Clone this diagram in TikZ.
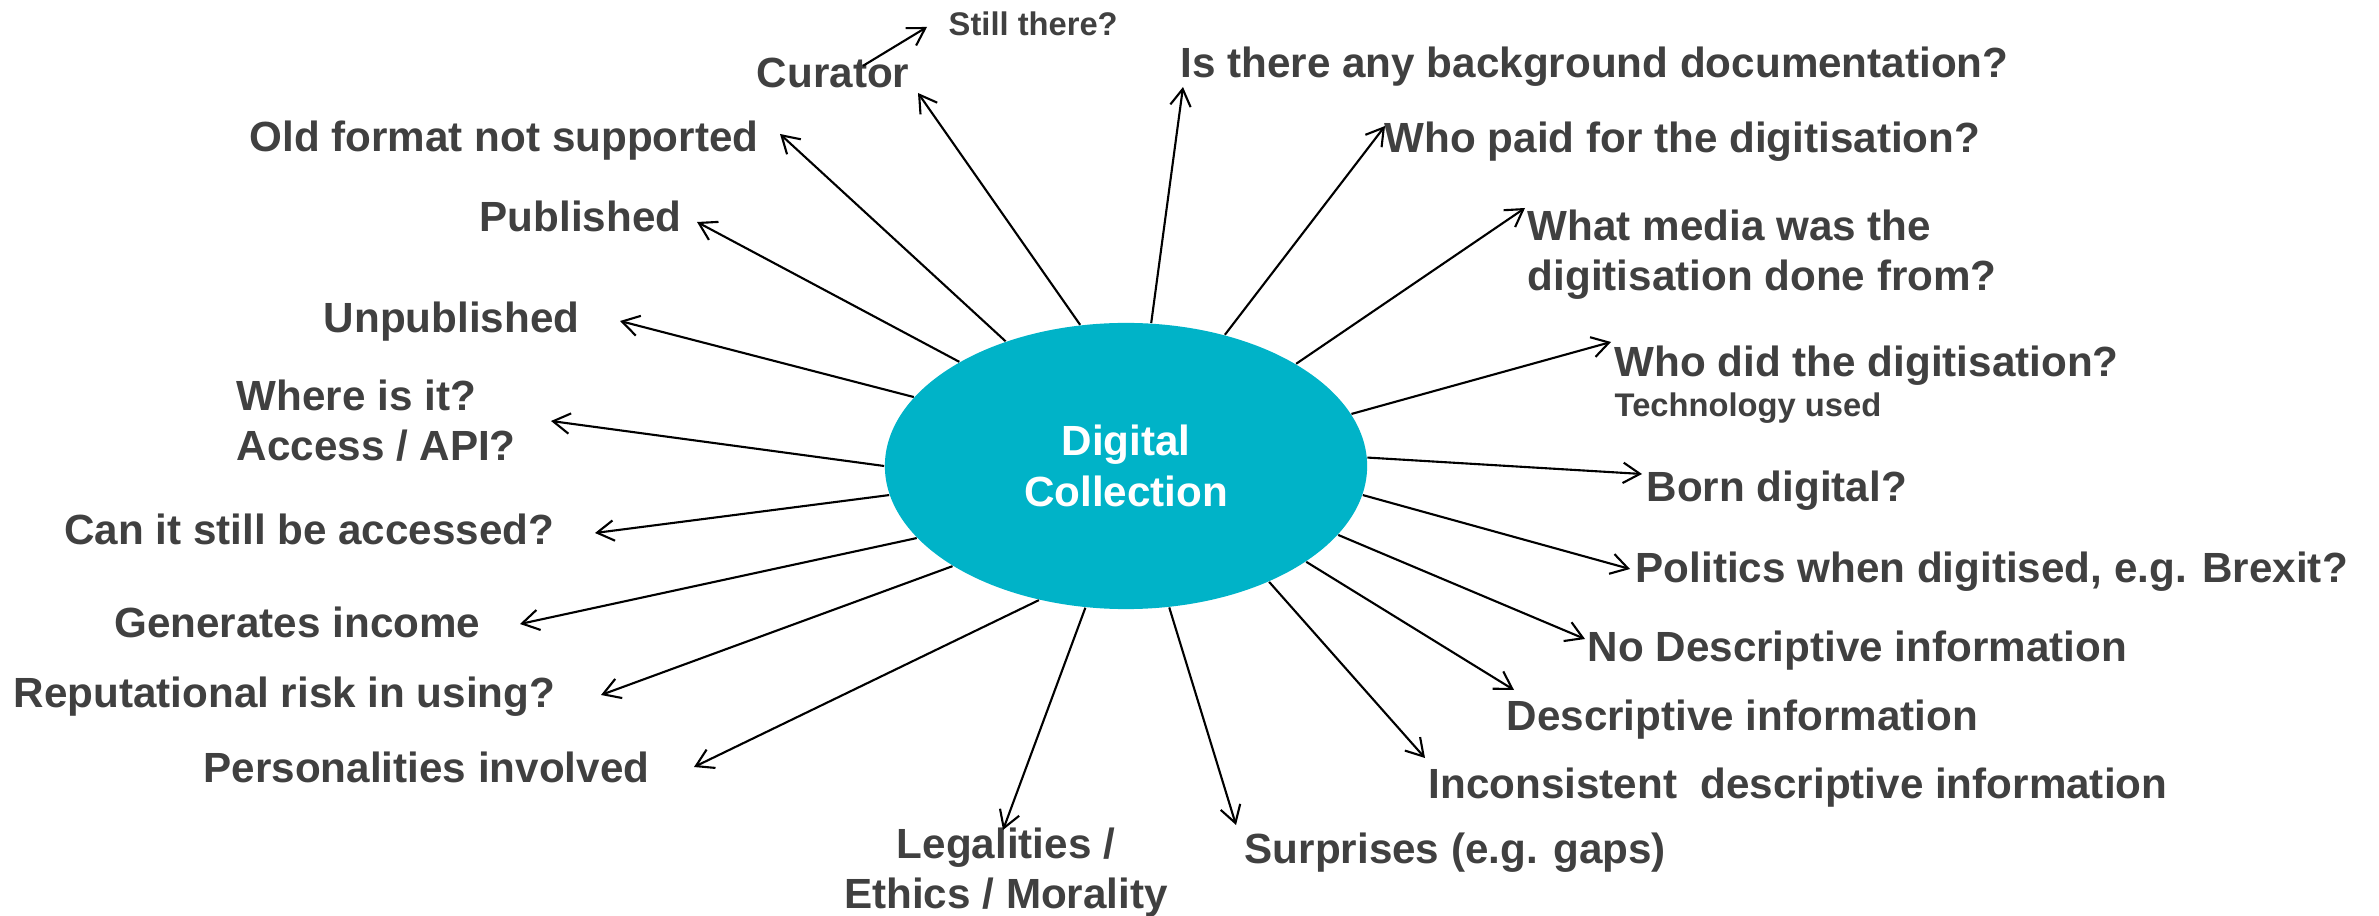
\documentclass[tikz,border=0pt]{standalone}
\usepackage{fontspec}
\setmainfont{Liberation Sans}
\usetikzlibrary{arrows.meta,shapes.geometric}
\definecolor{dcteal}{RGB}{0,179,200}
\definecolor{lblgray}{RGB}{64,64,64}
\tikzset{
	lbl/.style={inner sep=0pt, text=lblgray, font=\fontsize{12}{14.2}\selectfont\bfseries},
	sublbl/.style={inner sep=0pt, text=lblgray, font=\fontsize{9.3}{11}\selectfont\bfseries},
	arr/.style={-{Straight Barb[length=4.8pt,width=5.8pt]}, line width=0.6pt, black}
}

\begin{document}
\begin{tikzpicture}[x=0.01cm, y=-0.01cm]
		\useasboundingbox (0,0) rectangle (2379,916);
		\node[ellipse, fill=dcteal, minimum width=4.82cm, minimum height=2.86cm, inner sep=0pt, text=white, align=center, font=\fontsize{12}{14.4}\selectfont\bfseries] (dc) at (1126,466) {Digital\\Collection};
		\node[lbl, anchor=base east] (curator) at (910,88) {Curator};
		\node[sublbl, anchor=base west] (still) at (948,36) {Still there?};
		\node[lbl, anchor=base west] (isthere) at (1180,78) {Is there any background documentation?};
		\node[lbl, anchor=base east] (old) at (759,152) {Old format not supported};
		\node[lbl, anchor=base west] (paid) at (1384,153) {Who paid for the digitisation?};
		\node[lbl, anchor=base east] (pub) at (682,232) {Published};
		\node[lbl, anchor=north west, align=left] (media) at (1527,209) {What media was the\\digitisation done from?};
		\node[lbl, anchor=base east] (unpub) at (580,333) {Unpublished};
		\node[lbl, anchor=base west] (whodid) at (1614,377) {Who did the digitisation?};
		\node[sublbl, anchor=base west] (tech) at (1614,417) {Technology used};
		\node[lbl, anchor=north west, align=left] (where) at (236,379) {Where is it?\\Access / API?};
		\node[lbl, anchor=base west] (born) at (1646,502) {Born digital?};
		\node[lbl, anchor=base east] (can) at (555,545) {Can it still be accessed?};
		\node[lbl, anchor=base west] (politics) at (1635,583) {Politics when digitised, e.g. Brexit?};
		\node[lbl, anchor=base east] (gen) at (481,637) {Generates income};
		\node[lbl, anchor=base west] (nodesc) at (1587,662) {No Descriptive information};
		\node[lbl, anchor=base east] (rep) at (556,708) {Reputational risk in using?};
		\node[lbl, anchor=base west] (desc) at (1506,730) {Descriptive information};
		\node[lbl, anchor=base east] (pers) at (650,782) {Personalities involved};
		\node[lbl, anchor=base west] (incons) at (1428,798) {Inconsistent~ descriptive information};
		\node[lbl, anchor=base west] (surprises) at (1244,863) {Surprises (e.g. gaps)};
		\node[lbl, anchor=north, align=center] (legal) at (1006,827) {Legalities /\\Ethics / Morality};
		\coordinate (t-curator) at (918,93);
		\coordinate (t-still) at (927,27);
		\coordinate (t-isthere) at (1183,87);
		\coordinate (t-paid) at (1385,126);
		\coordinate (t-media) at (1525,208);
		\coordinate (t-whodid) at (1611,342);
		\coordinate (t-born) at (1642,474);
		\coordinate (t-politics) at (1630,569);
		\coordinate (t-nodesc) at (1585,639);
		\coordinate (t-desc) at (1514,690);
		\coordinate (t-incons) at (1425,758);
		\coordinate (t-surprises) at (1236,825);
		\coordinate (t-legal) at (1003,830);
		\coordinate (t-pers) at (694,767);
		\coordinate (t-rep) at (601,695);
		\coordinate (t-gen) at (520,624);
		\coordinate (t-can) at (595,533);
		\coordinate (t-where) at (551,421);
		\coordinate (t-unpub) at (620,321);
		\coordinate (t-pub) at (697,222);
		\coordinate (t-old) at (780,134);
		\draw[arr] (dc.108.3) -- (t-curator);
		\draw[arr] ([shift={(-47,8)}]curator.north east) -- (t-still);
		\draw[arr] (dc.80.5) -- (t-isthere);
		\draw[arr] (dc.53.8) -- (t-paid);
		\draw[arr] (dc.31.1) -- (t-media);
		\draw[arr] (dc.13.3) -- (t-whodid);
		\draw[arr] (dc.2.9) -- (t-born);
		\draw[arr] (dc.-7.4) -- (t-politics);
		\draw[arr] (dc.-18.7) -- (t-nodesc);
		\draw[arr] (dc.-28.3) -- (t-desc);
		\draw[arr] (dc.-39.8) -- (t-incons);
		\draw[arr] (dc.-73.7) -- (t-surprises);
		\draw[arr] (dc.254.7) -- (t-legal);
		\draw[arr] (dc.237.4) -- (t-pers);
		\draw[arr] (dc.210.4) -- (t-rep);
		\draw[arr] (dc.199.7) -- (t-gen);
		\draw[arr] (dc.187.5) -- (t-can);
		\draw[arr] (dc.180) -- (t-where);
		\draw[arr] (dc.162.5) -- (t-unpub);
		\draw[arr] (dc.148.3) -- (t-pub);
		\draw[arr] (dc.134.5) -- (t-old);
	\end{tikzpicture}
\end{document}
